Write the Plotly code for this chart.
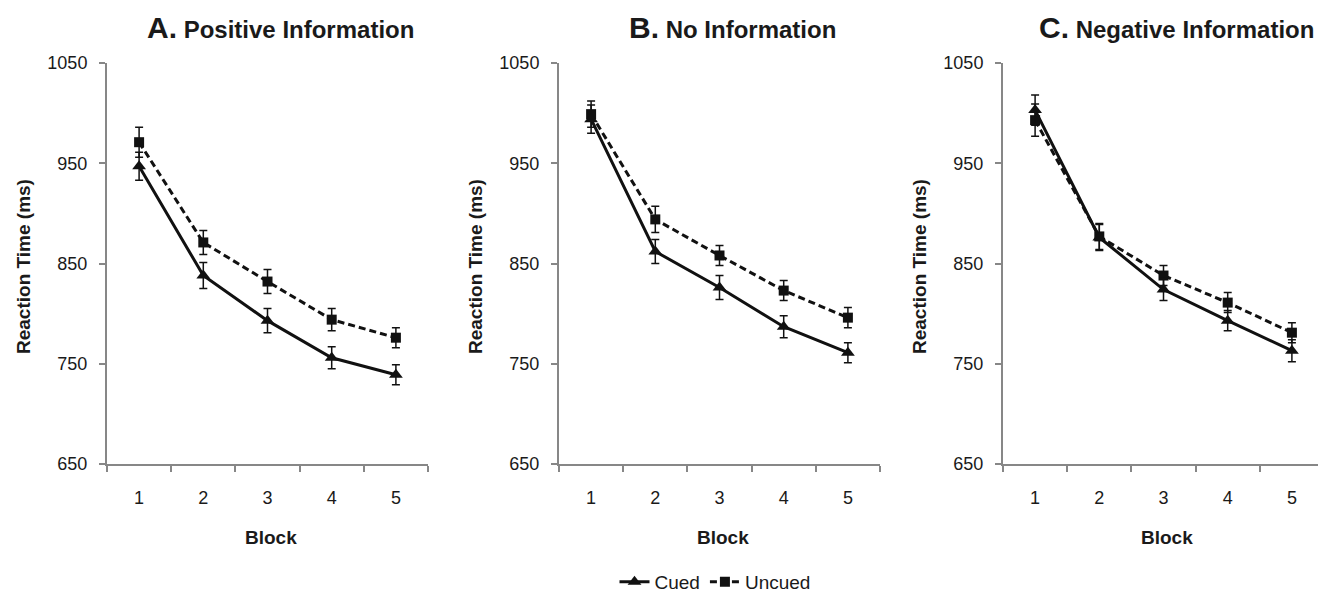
import plotly.graph_objects as go

# The page body has an 8px default margin, so layout is computed in page pixels
# and shifted by OFF into figure coordinates.
PAGE_W, PAGE_H = 1326, 595
OFF = 8
W, H = PAGE_W - OFF, PAGE_H - OFF

blocks = ["1", "2", "3", "4", "5"]
panel_titles = [("A.", "Positive Information"), ("B.", "No Information"), ("C.", "Negative Information")]

cued_A = [947, 838, 793, 756, 739]
cued_A_err = [14, 13, 12, 11, 10]
uncued_A = [971, 871, 832, 794, 776]
uncued_A_err = [15, 12, 12, 11, 10]

cued_B = [994, 862, 826, 787, 761]
cued_B_err = [14, 12, 12, 11, 10]
uncued_B = [999, 894, 858, 823, 796]
uncued_B_err = [13, 13, 10, 10, 10]

cued_C = [1003, 876, 824, 793, 763]
cued_C_err = [15, 13, 11, 10, 11]
uncued_C = [993, 877, 838, 811, 781]
uncued_C_err = [16, 13, 10, 10, 10]

y_ticks = [650, 750, 850, 950, 1050]

panels = [
    (cued_A, cued_A_err, uncued_A, uncued_A_err),
    (cued_B, cued_B_err, uncued_B, uncued_B_err),
    (cued_C, cued_C_err, uncued_C, uncued_C_err),
]

# page-pixel layout
x_px = [(107, 428), (559, 880), (1003, 1324)]
y_top, y_bot = 63, 464


def fx(px):
    return (px - OFF) / W


def fy(py):
    return 1 - (py - OFF) / H


FONT = "Liberation Sans, Arial, sans-serif"
AXC = "#878787"
TXT = "#1a1a1a"

fig = go.Figure()

for i, (c, ce, u, ue) in enumerate(panels):
    xa = "x" if i == 0 else f"x{i+1}"
    ya = "y" if i == 0 else f"y{i+1}"
    fig.add_trace(go.Scatter(
        x=blocks, y=u, xaxis=xa, yaxis=ya, name="Uncued", legendrank=2,
        mode="lines+markers", showlegend=(i == 0), cliponaxis=False,
        line=dict(color="#111111", width=3, dash="7px,4px"),
        marker=dict(symbol="square", size=10, color="#111111"),
        error_y=dict(type="data", array=ue, visible=True, color="#111111", thickness=1.5, width=4),
    ))
    fig.add_trace(go.Scatter(
        x=blocks, y=c, xaxis=xa, yaxis=ya, name="Cued", legendrank=1,
        mode="lines+markers", showlegend=(i == 0), cliponaxis=False,
        line=dict(color="#111111", width=3),
        marker=dict(symbol="triangle-up", size=12, color="#111111"),
        error_y=dict(type="data", array=ce, visible=True, color="#111111", thickness=1.5, width=4),
    ))

layout = dict(
    width=W, height=H,
    margin=dict(l=0, r=0, t=0, b=0, pad=0, autoexpand=False),
    paper_bgcolor="white", plot_bgcolor="white",
    font=dict(family=FONT, color=TXT, size=18),
    legend=dict(orientation="h", xref="container", yref="container",
                x=fx(715), xanchor="center", y=fy(582), yanchor="middle",
                font=dict(size=19, color=TXT), traceorder="normal"),
    annotations=[],
)

for i in range(3):
    xk = "xaxis" if i == 0 else f"xaxis{i+1}"
    yk = "yaxis" if i == 0 else f"yaxis{i+1}"
    x0, x1 = x_px[i]
    ya_name = "y" if i == 0 else f"y{i+1}"
    xa_name = "x" if i == 0 else f"x{i+1}"
    layout[xk] = dict(
        domain=[fx(x0), fx(x1)], anchor=ya_name, type="category", automargin=False,
        range=[-0.5, 4.5], tickson="boundaries", ticks="outside", ticklen=6, tickwidth=1.5,
        tickcolor=AXC, showline=True, linecolor=AXC, linewidth=2, showgrid=False, zeroline=False,
        tickfont=dict(size=18, color=TXT), ticklabelstandoff=16, fixedrange=True,
    )
    layout[yk] = dict(
        domain=[fy(y_bot), fy(y_top)], anchor=xa_name, automargin=False,
        range=[650, 1050], tickvals=y_ticks, ticks="outside", ticklen=6, tickwidth=1.5,
        tickcolor=AXC, showline=True, linecolor=AXC, linewidth=2, showgrid=False, zeroline=False,
        tickfont=dict(size=18, color=TXT), ticklabelstandoff=8, fixedrange=True,
    )
    letter, name = panel_titles[i]
    cx = (x0 + x1) / 2
    layout["annotations"].append(dict(
        xref="paper", yref="paper", x=fx(cx + 13), y=fy(27), xanchor="center", yanchor="middle",
        showarrow=False,
        text=f"<b><span style='font-size:30px'>{letter}</span> {name}</b>",
        font=dict(size=24, color=TXT, family=FONT),
    ))
    layout["annotations"].append(dict(
        xref="paper", yref="paper", x=fx(x0 - 84), y=fy(267), xanchor="center", yanchor="middle",
        showarrow=False, textangle=-90, text="<b>Reaction Time (ms)</b>",
        font=dict(size=19, color=TXT, family=FONT),
    ))
    layout["annotations"].append(dict(
        xref="paper", yref="paper", x=fx(cx + 3), y=fy(537), xanchor="center", yanchor="middle",
        showarrow=False, text="<b>Block</b>",
        font=dict(size=19, color=TXT, family=FONT),
    ))

fig.update_layout(**layout)
fig.write_html("out.html")
